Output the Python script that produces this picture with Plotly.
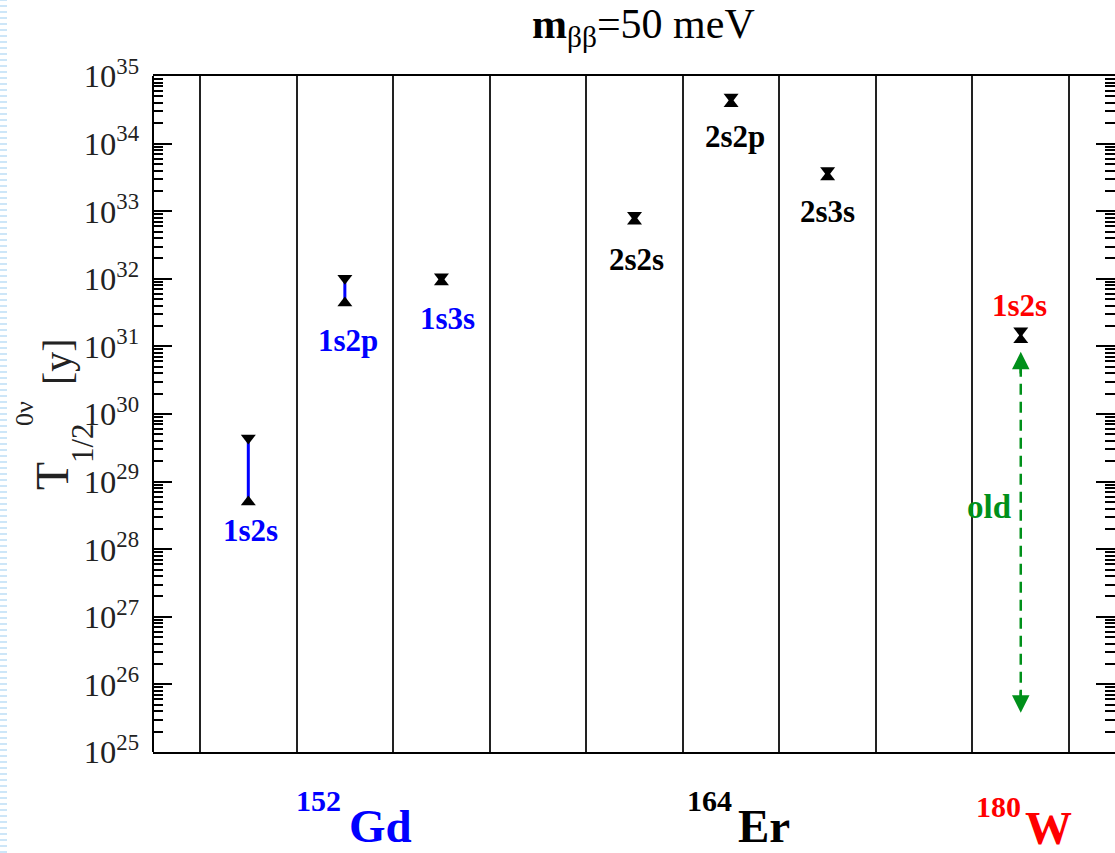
import plotly.graph_objects as go
import numpy as np

# --- data: 0νββ half-life ranges (years) per transition ---
gd_x = [1.5, 2.5, 3.5]
gd_names = ["1s2s", "1s2p", "1s3s"]
gd_upper = [4.4e29, 1.02e32, 1.07e32]
gd_lower = [5.0e28, 4.4e31, 0.90e32]

er_x = [5.5, 6.5, 7.5]
er_names = ["2s2s", "2s2p", "2s3s"]
er_upper = [8.7e32, 4.9e34, 4.0e33]
er_lower = [7.1e32, 3.9e34, 3.2e33]

w_x = [9.5]
w_names = ["1s2s"]
w_upper = [1.7e31]
w_lower = [1.25e31]

# previous estimate for 180W (range)
old_x = 9.5
old_upper = 8.3e30
old_lower = 3.8e25

separators = [1, 2, 3, 4, 5, 6, 7, 8, 9, 10]
nuclei = [("152", "Gd", "#0000ff"), ("164", "Er", "#000000"), ("180", "W", "#ff0000")]

W, H = 1115, 853
ML, MR, MT, MB = 153, 0, 76, 101
PW, PH = W - ML - MR, H - MT - MB


def px(x):
    return (x - ML) / PW


def py(y):
    return (H - MB - y) / PH


SERIF = "Liberation Serif"
fig = go.Figure()


def add_group(xs, up, lo, bar_color):
    for x, u, l in zip(xs, up, lo):
        fig.add_trace(go.Scatter(x=[x, x], y=[u, l], mode="lines",
                                 line=dict(color=bar_color, width=3),
                                 showlegend=False, hoverinfo="skip"))
    fig.add_trace(go.Scatter(x=xs, y=up, mode="markers",
                             marker=dict(symbol="triangle-down", size=13, color="black"),
                             showlegend=False))
    fig.add_trace(go.Scatter(x=xs, y=lo, mode="markers",
                             marker=dict(symbol="triangle-up", size=13, color="black"),
                             showlegend=False))


add_group(gd_x, gd_upper, gd_lower, "#0000ff")
add_group(er_x, er_upper, er_lower, "black")
add_group(w_x, w_upper, w_lower, "black")

# dashed double arrow for the old range
green = "#00901a"
fig.add_trace(go.Scatter(x=[old_x, old_x], y=[old_upper / 1.6, old_lower * 1.6], mode="lines",
                         line=dict(color=green, width=2.5, dash="11px,7px"),
                         showlegend=False, hoverinfo="skip"))
for tip, tail in [(old_upper, old_upper / 2.2), (old_lower, old_lower * 2.2)]:
    fig.add_annotation(x=old_x, y=np.log10(tip), ax=old_x, ay=np.log10(tail),
                       xref="x", yref="y", axref="x", ayref="y", text="",
                       showarrow=True, arrowhead=2, arrowsize=1.4, arrowwidth=2.5,
                       arrowcolor=green, standoff=0, startstandoff=0)

# transition labels
lab_font = dict(family=SERIF, size=31, color="#0000ff")
label_pos_gd = [(1.52, 28.28), (2.53, 31.09), (3.56, 31.41)]
for (lx, ly), name in zip(label_pos_gd, gd_names):
    fig.add_annotation(x=lx, y=ly, text=f"<b>{name}</b>", showarrow=False,
                       font=lab_font, xanchor="center", yanchor="middle")
label_pos_er = [(5.52, 32.29), (6.54, 34.11), (7.50, 32.99)]
for (lx, ly), name in zip(label_pos_er, er_names):
    fig.add_annotation(x=lx, y=ly, text=f"<b>{name}</b>", showarrow=False,
                       font=dict(lab_font, color="black"), xanchor="center", yanchor="middle")
fig.add_annotation(x=9.49, y=31.61, text=f"<b>{w_names[0]}</b>", showarrow=False,
                   font=dict(lab_font, color="#ff0000"), xanchor="center", yanchor="middle")
fig.add_annotation(x=9.17, y=28.62, text="<b>old</b>", showarrow=False,
                   font=dict(lab_font, size=33, color=green), xanchor="center", yanchor="middle")

# nucleus labels below the axis
nuc_pos = [((318, 800), (380, 826)), ((709, 800), (764, 826)), ((998, 806), (1048, 828))]
for (mass, sym, col), ((mx, my), (sx, sy)) in zip(nuclei, nuc_pos):
    fig.add_annotation(xref="paper", yref="paper", x=px(mx), y=py(my), text=f"<b>{mass}</b>",
                       showarrow=False, font=dict(family=SERIF, size=30, color=col),
                       xanchor="center", yanchor="middle")
    fig.add_annotation(xref="paper", yref="paper", x=px(sx), y=py(sy), text=f"<b>{sym}</b>",
                       showarrow=False, font=dict(family=SERIF, size=47, color=col),
                       xanchor="center", yanchor="middle")

# title
fig.add_annotation(xref="paper", yref="paper", x=px(643), y=py(27),
                   text="<b>m</b><sub>ββ</sub>=50 meV", showarrow=False,
                   font=dict(family=SERIF, size=42, color="black"),
                   xanchor="center", yanchor="middle")

# y-axis title pieces: T, superscript 0ν, subscript 1/2, [y]
ytitle = [("T", 52, 476, 46), ("0ν", 24, 414, 26), ("1/2", 82, 443, 31), ("[y]", 57, 362, 40)]
for txt, x0, y0, sz in ytitle:
    fig.add_annotation(xref="paper", yref="paper", x=px(x0), y=py(y0), text=txt,
                       textangle=-90, showarrow=False,
                       font=dict(family=SERIF, size=sz, color="#222222"),
                       xanchor="center", yanchor="middle")

# left spine and page-edge dashes
fig.add_shape(type="line", xref="paper", yref="paper", x0=0, x1=0, y0=0, y1=1,
              line=dict(color="black", width=2))
fig.add_shape(type="line", xref="paper", yref="paper", x0=px(3.5), x1=px(3.5),
              y0=py(H), y1=py(0), line=dict(color="#cde6f8", width=7, dash="2px,4px"))

fig.update_layout(
    width=W, height=H,
    margin=dict(l=ML, r=MR, t=MT, b=MB),
    paper_bgcolor="white", plot_bgcolor="white",
    showlegend=False,
    xaxis=dict(range=[0.513, 10.476], tickvals=separators, showticklabels=False,
               ticks="", showgrid=True, gridcolor="#222222", gridwidth=1.5,
               zeroline=False, showline=True, linecolor="black", linewidth=2, mirror=True),
    yaxis=dict(type="log", range=[25, 35], dtick=1, exponentformat="power",
               showgrid=False, zeroline=False, showline=False, mirror="ticks",
               ticks="inside", ticklen=19, tickwidth=1.5, tickcolor="black",
               ticklabelstandoff=13,
               minor=dict(ticks="inside", ticklen=10, tickwidth=1.5, tickcolor="black",
                          dtick="D1", showgrid=False),
               tickfont=dict(family=SERIF, size=26, color="#222222")),
)

fig.write_html("out.html")
